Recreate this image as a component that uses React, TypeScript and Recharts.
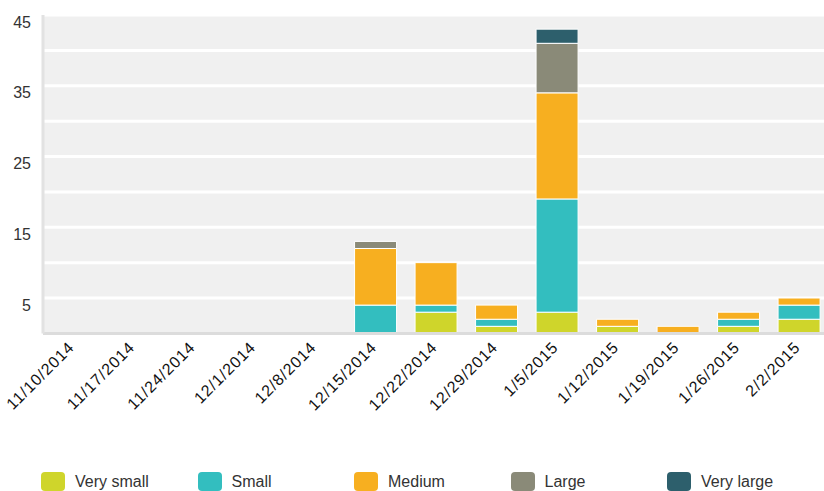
import React from "react";
import { Bar, BarChart, CartesianGrid, XAxis, YAxis } from "recharts";

const weeks = [
  "11/10/2014", "11/17/2014", "11/24/2014", "12/1/2014", "12/8/2014", "12/15/2014",
  "12/22/2014", "12/29/2014", "1/5/2015", "1/12/2015", "1/19/2015", "1/26/2015", "2/2/2015",
];
const verySmall = [0, 0, 0, 0, 0, 0, 3, 1, 3, 1, 0, 1, 2];
const small = [0, 0, 0, 0, 0, 4, 1, 1, 16, 0, 0, 1, 2];
const medium = [0, 0, 0, 0, 0, 8, 6, 2, 15, 1, 1, 1, 1];
const large = [0, 0, 0, 0, 0, 1, 0, 0, 7, 0, 0, 0, 0];
const veryLarge = [0, 0, 0, 0, 0, 0, 0, 0, 2, 0, 0, 0, 0];
const yTicks = [0, 5, 10, 15, 20, 25, 30, 35, 40, 45];
const yLabels = [5, 15, 25, 35, 45];

const series = [
  { key: "verySmall", name: "Very small", color: "#cfd52b", values: verySmall },
  { key: "small", name: "Small", color: "#33bebf", values: small },
  { key: "medium", name: "Medium", color: "#f7af20", values: medium },
  { key: "large", name: "Large", color: "#8a8a78", values: large },
  { key: "veryLarge", name: "Very large", color: "#2d5f6c", values: veryLarge },
];

const data = weeks.map((week, i) => {
  const row: Record<string, string | number> = { week };
  series.forEach((s) => (row[s.key] = s.values[i]));
  return row;
});

const font = "Arial, 'Liberation Sans', sans-serif";

const XTick = (props: any) => {
  const { x, y, payload } = props;
  const ax = x + 2;
  const ay = y + 15;
  return (
    <text
      x={ax}
      y={ay}
      textAnchor="end"
      transform={`rotate(-45 ${ax} ${ay})`}
      fontSize={16}
      letterSpacing={0.9}
      fill="#111"
      fontFamily={font}
    >
      {payload.value}
    </text>
  );
};

const YTick = (props: any) => {
  const { y, payload } = props;
  if (!yLabels.includes(payload.value)) return null;
  return (
    <text x={31} y={y + 7} textAnchor="end" dominantBaseline="central" fontSize={16} fill="#333" fontFamily={font}>
      {payload.value}
    </text>
  );
};

export default function App() {
  return (
    <div style={{ position: "absolute", left: 0, top: 0, width: 824, height: 491, overflow: "hidden", background: "#fff" }}>
      <BarChart
        width={840}
        height={491}
        data={data}
        margin={{ top: 15, right: 10.5, bottom: 0, left: 0 }}
        barCategoryGap="15%"
      >
        <CartesianGrid vertical={false} fill="#f0f0f0" stroke="#ffffff" strokeWidth={3} />
        <XAxis
          dataKey="week"
          interval={0}
          height={157.6}
          tickLine={false}
          tickSize={0}
          tickMargin={0}
          axisLine={{ stroke: "#dcdcdc", strokeWidth: 3 }}
          tick={<XTick />}
        />
        <YAxis
          width={43}
          domain={[0, 45]}
          ticks={yTicks}
          tickLine={false}
          axisLine={{ stroke: "#e2e2e2", strokeWidth: 3 }}
          tick={<YTick />}
        />
        {series.map((s) => (
          <Bar
            key={s.key}
            dataKey={s.key}
            name={s.name}
            stackId="a"
            fill={s.color}
            stroke="#ffffff"
            strokeWidth={1}
            isAnimationActive={false}
          />
        ))}
      </BarChart>
      <div style={{ position: "absolute", left: 41, top: 472, display: "flex", fontFamily: font, fontSize: 16, color: "#333" }}>
        {series.map((s) => (
          <div key={s.key} style={{ width: 156.5, display: "flex", alignItems: "center", height: 19 }}>
            <span style={{ width: 24, height: 19, borderRadius: 4, background: s.color, display: "inline-block", marginRight: 10 }} />
            <span>{s.name}</span>
          </div>
        ))}
      </div>
    </div>
  );
}
